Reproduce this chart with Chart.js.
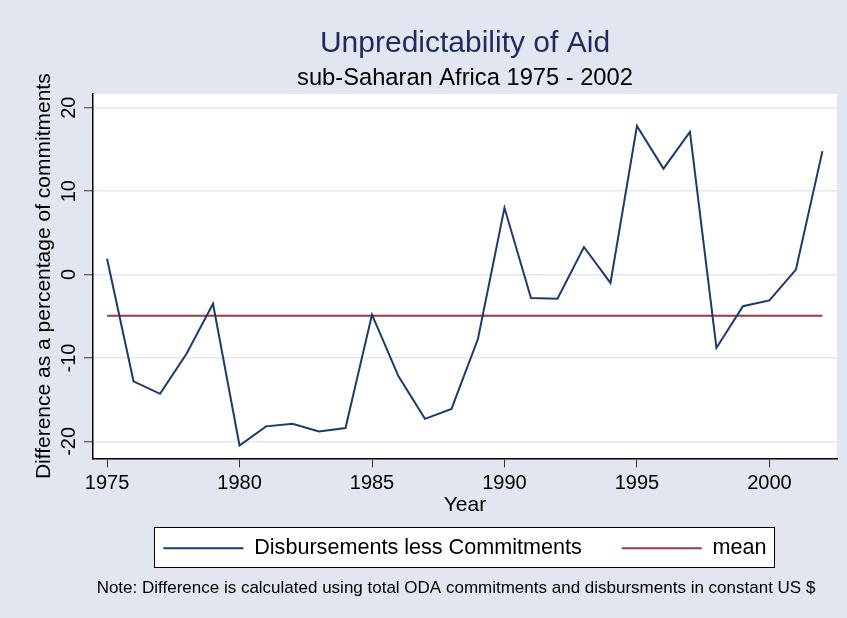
<!DOCTYPE html>
<html>
<head>
<meta charset="utf-8">
<script src="https://cdn.jsdelivr.net/npm/chart.js@4.4.1/dist/chart.umd.min.js"></script>
<style>
html, body { margin: 0; padding: 0; background: #e1e6f0; }
#wrap { width: 847px; height: 618px; }
</style>
</head>
<body>
<div id="wrap"><canvas id="myChart"></canvas></div>
<script>
const years = [1975, 1976, 1977, 1978, 1979, 1980, 1981, 1982, 1983, 1984,
               1985, 1986, 1987, 1988, 1989, 1990, 1991, 1992, 1993, 1994,
               1995, 1996, 1997, 1998, 1999, 2000, 2001, 2002];
const gap = [1.9, -12.8, -14.3, -9.5, -3.5, -20.5, -18.2, -17.9, -18.8, -18.4,
             -4.8, -12.2, -17.3, -16.1, -7.7, 8.0, -2.8, -2.9, 3.3, -1.0,
             17.8, 12.7, 17.1, -8.8, -3.8, -3.1, 0.6, 14.8];
const meanGap = -4.95;
const xTicks = [1975, 1980, 1985, 1990, 1995, 2000];
const yTicks = [-20, -10, 0, 10, 20];

const noteText = 'Note: Difference is calculated using total ODA commitments and disbursments in constant US $';
const fontFamily = '"Liberation Sans", Arial, Helvetica, sans-serif';
const bgColor = '#e1e6f0';

Chart.defaults.font.family = fontFamily;
Chart.defaults.color = '#000';

// white plot region, legend frame and the note line
const decor = {
    id: 'decor',
    afterLayout(chart){
        // pull the legend up a little so its frame sits under the "Year" title
        chart.legend.top -= 20;
        chart.legend.bottom -= 20;
    },
    beforeDraw(chart){
        const {ctx, chartArea} = chart;
        ctx.save();
        ctx.fillStyle = '#fff';
        ctx.fillRect(chartArea.left, chartArea.top, chartArea.right - chartArea.left, chartArea.bottom - chartArea.top);
        const hb = chart.legend.legendHitBoxes;
        if(hb && hb.length){
            const first = hb[0], last = hb[hb.length - 1];
            const x0 = first.left - 9;
            const x1 = last.left + last.width + 8;
            const cy = first.top + first.height / 2;
            ctx.fillRect(x0, cy - 21, x1 - x0, 40);
            ctx.strokeStyle = '#000';
            ctx.lineWidth = 1;
            ctx.strokeRect(Math.round(x0) + 0.5, Math.round(cy - 21) + 0.5, Math.round(x1 - x0), 40);
        }
        ctx.restore();
    },
    afterDraw(chart){
        const ctx = chart.ctx;
        ctx.save();
        ctx.fillStyle = '#000';
        ctx.font = '17px ' + fontFamily;
        ctx.textAlign = 'center';
        ctx.textBaseline = 'middle';
        ctx.fillText(noteText, 456, 588);
        ctx.restore();
    }
};

new Chart('myChart', {
    type: 'line',
    data: {
        datasets: [{
            label: 'Disbursements less Commitments',
            data: years.map((yr, i) => ({x: yr, y: gap[i]})),
            borderColor: '#1b3a6d',
            borderWidth: 2,
            pointRadius: 0,
            tension: 0,
            fill: false
        }, {
            label: 'mean',
            data: years.map(yr => ({x: yr, y: meanGap})),
            borderColor: '#953a40',
            borderWidth: 2,
            pointRadius: 0,
            fill: false
        }]
    },
    options: {
        responsive: true,
        maintainAspectRatio: false,
        animation: false,
        events: [],
        layout: {padding: {left: 0, right: 10, top: 0, bottom: 29}},
        plugins: {
            title: {
                display: true,
                fullSize: false,
                text: 'Unpredictability of Aid',
                color: '#1e2c5c',
                font: {size: 30, weight: 'normal', lineHeight: 1.2},
                padding: {top: 26, bottom: 0}
            },
            subtitle: {
                display: true,
                fullSize: false,
                text: 'sub-Saharan Africa 1975 - 2002',
                color: '#000',
                font: {size: 23.7, weight: 'normal', lineHeight: 1.2},
                padding: {top: 1.8, bottom: 1.8}
            },
            legend: {
                position: 'bottom',
                fullSize: false,
                labels: {
                    usePointStyle: true,
                    pointStyle: 'line',
                    pointStyleWidth: 80,
                    padding: 40,
                    color: '#000',
                    font: {size: 21.6}
                }
            },
            tooltip: {enabled: false}
        },
        scales: {
            x: {
                type: 'linear',
                min: 1974.47,
                max: 2002.55,
                afterBuildTicks: s => { s.ticks = xTicks.map(v => ({value: v})); },
                afterFit: s => { s.height = 59; },
                border: {display: true, color: '#000', width: 1.5},
                grid: {drawOnChartArea: false, tickLength: 9, tickColor: '#333', tickWidth: 1},
                ticks: {color: '#000', font: {size: 20}, padding: 4, maxRotation: 0, callback: v => String(v)},
                title: {display: true, text: 'Year', color: '#000', font: {size: 21, lineHeight: 1.2}, padding: {top: 0, bottom: 0}}
            },
            y: {
                min: -22.04,
                max: 21.64,
                afterBuildTicks: s => { s.ticks = yTicks.map(v => ({value: v})); },
                afterFit: s => { s.width = 93; },
                border: {display: true, color: '#000', width: 1.5},
                grid: {color: bgColor, lineWidth: 1.5, tickLength: 9, tickColor: '#333', tickWidth: 1},
                ticks: {color: '#000', font: {size: 20}, padding: 0, minRotation: 90, maxRotation: 90, crossAlign: 'center'},
                title: {display: true, text: 'Difference as a percentage of commitments', color: '#000', font: {size: 21, lineHeight: 1.2}, padding: {top: 32, bottom: 0}}
            }
        }
    },
    plugins: [decor]
});
</script>
</body>
</html>
